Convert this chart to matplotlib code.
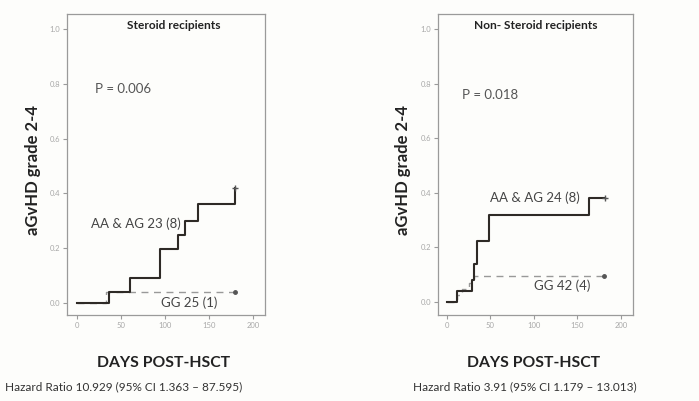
import matplotlib
matplotlib.use("Agg")
import matplotlib.pyplot as plt

# --- data ---
# steroid recipients
st_aa_days = [0, 36, 60, 94, 115, 123, 137, 180]
st_aa_cum = [0.0, 0.041, 0.092, 0.196, 0.247, 0.30, 0.363, 0.418]
st_gg_days = [0, 33, 180]
st_gg_cum = [0.0, 0.04, 0.04]

# non-steroid recipients
ns_aa_days = [0, 11, 29, 31, 35, 48, 163, 182]
ns_aa_cum = [0.0, 0.04, 0.08, 0.14, 0.225, 0.32, 0.38, 0.38]
ns_gg_days = [0, 12, 17, 25, 31, 180]
ns_gg_cum = [0.0, 0.024, 0.048, 0.071, 0.095, 0.095]

x_ticks = [0, 50, 100, 150, 200]
y_ticks = [0.0, 0.2, 0.4, 0.6, 0.8, 1.0]

panels = [
    dict(title="Steroid recipients", p="P = 0.006",
         aa=(st_aa_days, st_aa_cum), gg=(st_gg_days, st_gg_cum),
         aa_lbl="AA & AG 23 (8)", gg_lbl="GG 25 (1)",
         hr="Hazard Ratio 10.929 (95% CI 1.363 \u2013 87.595)"),
    dict(title="Non- Steroid recipients", p="P = 0.018",
         aa=(ns_aa_days, ns_aa_cum), gg=(ns_gg_days, ns_gg_cum),
         aa_lbl="AA & AG 24 (8)", gg_lbl="GG 42 (4)",
         hr="Hazard Ratio 3.91 (95% CI 1.179 \u2013 13.013)"),
]

plt.rcParams['font.family'] = ['Lato', 'DejaVu Sans']

fig = plt.figure(figsize=(6.99, 4.01), dpi=100)
fig.patch.set_facecolor('#fdfdfb')

W, H = 699.0, 401.0
boxes = [(67, 265, 14, 315), (438, 633, 14, 315)]
xlims = [(-11.4, 213.6), (-10.3, 213.8)]
ylims = [(-0.044, 1.055), (-0.048, 1.055)]
ylab_x = [33, 403]
hr_x = [5, 413]
aa_pos = [(181, 0.29, 'right'), (490, 0.38, 'left')]
gg_pos = [(189, 0.0, 'center'), (562, 0.06, 'center')]

for i, pn in enumerate(panels):
    l, r, t, b = boxes[i]
    ax = fig.add_axes([l / W, 1 - b / H, (r - l) / W, (b - t) / H])
    ax.set_facecolor('#fdfdfb')
    ax.set_xlim(*xlims[i])
    ax.set_ylim(*ylims[i])
    ax.set_xticks(x_ticks)
    ax.set_yticks(y_ticks)
    ax.set_xticklabels([str(v) for v in x_ticks])
    ax.set_yticklabels([f"{v:.1f}" for v in y_ticks])
    ax.tick_params(labelsize=5.5, colors='#9a9a9a', length=3, width=0.8,
                   labelcolor='#a8a8a8', pad=2)
    for s in ax.spines.values():
        s.set_color('#9a9a9a')
        s.set_linewidth(0.9)

    gx, gy = pn['gg']
    ax.step(gx, gy, where='post', color='#999999', lw=1.0, ls=(0, (5, 4)))
    ax.plot(gx[-1], gy[-1], marker='o', ms=2.5, color='#555555')
    ax_, ay = pn['aa']
    ax.step(ax_, ay, where='post', color='#2e2a26', lw=1.5)
    ax.plot(ax_[-1], ay[-1], marker='+', ms=5, mew=1, color='#555555')

    # data coords for text
    x0 = xlims[i][0]
    pxd = (r - l) / (xlims[i][1] - xlims[i][0])
    def dx(px):
        return x0 + (px - l) / pxd

    ax.text(0.54 if i == 0 else 0.5, 0.963, pn['title'], transform=ax.transAxes,
            ha='center', va='center', fontsize=8.6, fontweight='bold', color='#222222')
    ax.text(dx(95 if i == 0 else 462), 0.78 if i == 0 else 0.76, pn['p'],
            ha='left', va='center', fontsize=9.5, color='#555555')
    px, py, ha = aa_pos[i]
    ax.text(dx(px), py, pn['aa_lbl'], ha=ha, va='center', fontsize=9.5, color='#444444')
    px, py, ha = gg_pos[i]
    ax.text(dx(px), py, pn['gg_lbl'], ha=ha, va='center', fontsize=9.5, color='#444444')

    cx = (l + r) / 2
    fig.text((cx - 2) / W, 1 - 363 / H, "DAYS POST-HSCT", ha='center', va='center',
             fontsize=11.3, fontweight='bold', color='#222222')
    fig.text(ylab_x[i] / W, 1 - 170 / H, "aGvHD grade 2-4", ha='center', va='center',
             rotation=90, fontsize=12, fontweight='bold', color='#222222')
    fig.text(hr_x[i] / W, 1 - 387 / H, pn['hr'], ha='left', va='center',
             fontsize=8.5, color='#333333')

fig.savefig("out.png", dpi=100, facecolor=fig.get_facecolor())
